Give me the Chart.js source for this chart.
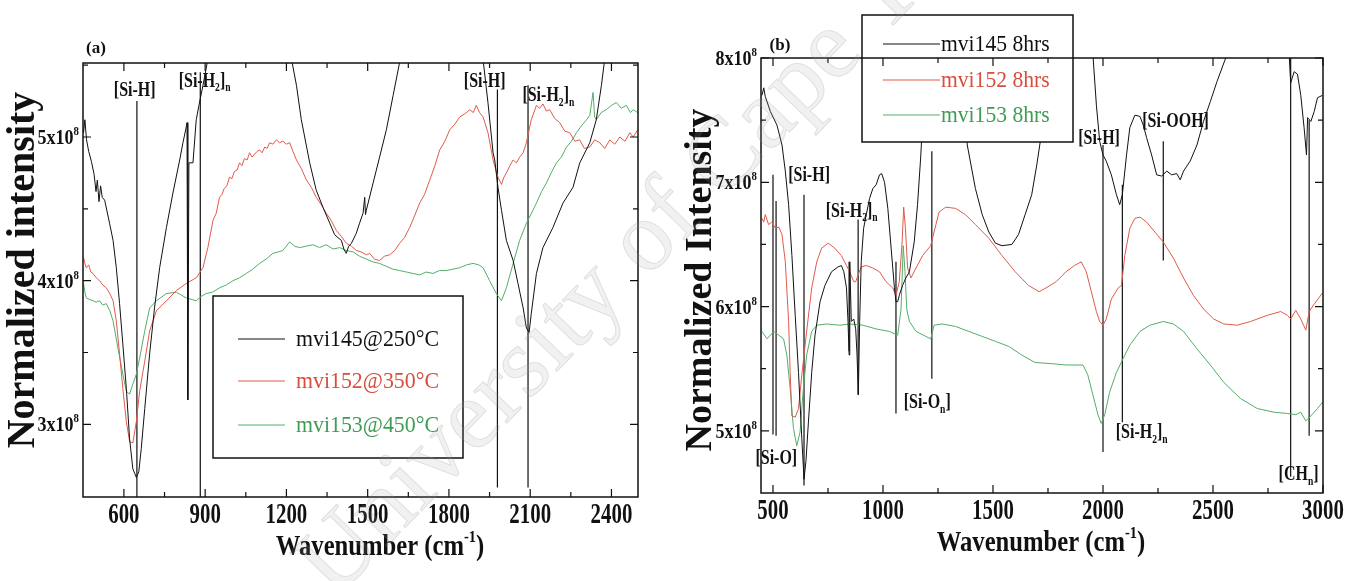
<!DOCTYPE html>
<html>
<head>
<meta charset="utf-8">
<script src="https://cdn.jsdelivr.net/npm/chart.js@4"></script>
<style>
  html, body { margin: 0; padding: 0; background: #fff; }
  #wrap { position: relative; width: 1354px; height: 581px; overflow: hidden; }
  canvas { position: absolute; top: 0; }
  #panelA { left: 0; }
  #panelB { left: 677px; }
  #stamp { left: 0; pointer-events: none; }
</style>
</head>
<body>
<div id="wrap">
  <canvas id="panelA" width="677" height="581"></canvas>
  <canvas id="panelB" width="677" height="581"></canvas>
  <canvas id="stamp" width="1354" height="581"></canvas>
</div>
<script>
'use strict';

// ---- panel (a): annealing temperature series, intensity in units of 1e8 ----
const mvi145Temp = [
  [451, 5.03], [456, 5.12], [462, 4.98], [470, 4.90], [480, 4.83], [490, 4.74], [497, 4.62], [502, 4.70],
  [508, 4.55], [514, 4.66], [520, 4.58], [529, 4.56], [547, 4.40], [560, 4.28], [572, 4.09], [584, 3.84],
  [596, 3.56], [609, 3.25], [621, 2.90], [633, 2.69], [646, 2.63], [655, 2.67], [664, 2.83], [677, 3.11],
  [695, 3.49], [713, 3.81], [732, 4.09], [757, 4.37], [781, 4.61], [806, 4.84], [818, 4.96], [828, 5.05],
  [833, 5.10], [836, 3.17], [840, 4.82], [855, 4.82], [867, 5.12], [877, 5.22], [892, 5.36], [910, 5.54],
  [925, 5.80], [1205, 5.80], [1218, 5.55], [1237, 5.36], [1255, 5.12], [1286, 4.82], [1310, 4.63],
  [1335, 4.51], [1360, 4.40], [1378, 4.32], [1390, 4.30], [1403, 4.28], [1412, 4.22], [1421, 4.19],
  [1430, 4.24], [1440, 4.26], [1458, 4.33], [1470, 4.40], [1483, 4.47], [1489, 4.58], [1492, 4.46],
  [1495, 4.49], [1520, 4.68], [1544, 4.86], [1569, 5.05], [1594, 5.29], [1618, 5.52], [1630, 5.80],
  [1915, 5.80], [1926, 5.54], [1944, 5.24], [1963, 4.89], [1969, 4.84], [1981, 4.65], [1994, 4.49],
  [2012, 4.28], [2037, 4.14], [2055, 3.98], [2074, 3.81], [2086, 3.67], [2096, 3.64], [2104, 3.77],
  [2123, 4.05], [2147, 4.23], [2184, 4.37], [2221, 4.54], [2258, 4.65], [2283, 4.82], [2320, 4.96],
  [2344, 5.12], [2363, 5.36], [2375, 5.54], [2385, 5.80],
];
const mvi152Temp = [
  [451, 4.16], [456, 4.12], [461, 4.09], [470, 4.11], [478, 4.06], [486, 4.05], [498, 4.02], [510, 4.00],
  [522, 3.97], [535, 3.95], [548, 3.91], [560, 3.86], [572, 3.72], [584, 3.49], [596, 3.25], [609, 3.02],
  [621, 2.88], [633, 2.87], [646, 3.02], [658, 3.23], [677, 3.44], [695, 3.65], [720, 3.79], [757, 3.86],
  [793, 3.93], [830, 3.98], [867, 4.02], [892, 4.09], [910, 4.23], [929, 4.42], [941, 4.47], [953, 4.58],
  [962, 4.60], [970, 4.64], [980, 4.66], [990, 4.72], [999, 4.71], [1008, 4.76], [1018, 4.77], [1027, 4.82],
  [1036, 4.80], [1045, 4.85], [1055, 4.84], [1064, 4.89], [1073, 4.86], [1082, 4.88], [1092, 4.90],
  [1101, 4.91], [1110, 4.89], [1120, 4.93], [1129, 4.92], [1138, 4.96], [1150, 4.95], [1163, 4.98],
  [1175, 4.96], [1187, 4.97], [1200, 4.95], [1212, 4.96], [1224, 4.90], [1237, 4.84], [1255, 4.78],
  [1274, 4.70], [1292, 4.65], [1310, 4.58], [1328, 4.53], [1347, 4.47], [1365, 4.42], [1384, 4.35],
  [1402, 4.31], [1421, 4.26], [1440, 4.24], [1458, 4.21], [1476, 4.20], [1495, 4.18], [1507, 4.19],
  [1525, 4.15], [1544, 4.14], [1562, 4.17], [1581, 4.18], [1600, 4.21], [1618, 4.26], [1636, 4.30],
  [1655, 4.37], [1673, 4.45], [1692, 4.54], [1710, 4.60], [1729, 4.70], [1748, 4.80], [1766, 4.91],
  [1785, 4.97], [1803, 5.05], [1822, 5.09], [1840, 5.14], [1858, 5.16], [1877, 5.19], [1890, 5.17],
  [1901, 5.22], [1913, 5.17], [1926, 5.14], [1944, 5.03], [1963, 4.84], [1981, 4.72], [1994, 4.67],
  [2003, 4.72], [2012, 4.75], [2025, 4.80], [2037, 4.84], [2049, 4.82], [2061, 4.86], [2074, 4.89],
  [2086, 4.96], [2104, 5.12], [2123, 5.22], [2135, 5.20], [2147, 5.23], [2160, 5.18], [2172, 5.19],
  [2190, 5.13], [2209, 5.10], [2228, 5.04], [2246, 5.03], [2265, 4.97], [2283, 4.98], [2300, 4.92],
  [2320, 4.93], [2338, 4.98], [2357, 4.96], [2375, 4.92], [2394, 4.98], [2412, 4.95], [2431, 5.00],
  [2450, 4.97], [2468, 5.03], [2480, 5.00], [2497, 5.05],
];
const mvi153Temp = [
  [451, 3.98], [456, 3.92], [461, 3.88], [472, 3.87], [486, 3.86], [498, 3.85], [510, 3.86], [522, 3.83],
  [535, 3.84], [548, 3.79], [560, 3.72], [578, 3.53], [596, 3.35], [609, 3.23], [621, 3.21], [633, 3.28],
  [646, 3.35], [658, 3.46], [677, 3.65], [695, 3.81], [720, 3.86], [757, 3.91], [793, 3.92], [830, 3.88],
  [867, 3.86], [885, 3.89], [904, 3.91], [928, 3.92], [953, 3.95], [978, 3.97], [1003, 4.00], [1027, 4.02],
  [1052, 4.05], [1076, 4.08], [1101, 4.12], [1125, 4.15], [1150, 4.19], [1170, 4.20], [1187, 4.21],
  [1212, 4.27], [1230, 4.24], [1249, 4.23], [1274, 4.24], [1298, 4.25], [1322, 4.23], [1347, 4.25],
  [1372, 4.22], [1397, 4.23], [1420, 4.21], [1446, 4.20], [1470, 4.17], [1495, 4.15], [1520, 4.13],
  [1544, 4.12], [1568, 4.10], [1593, 4.08], [1618, 4.07], [1643, 4.06], [1667, 4.05], [1692, 4.04],
  [1716, 4.06], [1741, 4.05], [1765, 4.07], [1790, 4.07], [1815, 4.08], [1840, 4.09], [1865, 4.11],
  [1889, 4.12], [1910, 4.11], [1926, 4.09], [1950, 4.00], [1975, 3.91], [1994, 3.86], [2012, 3.95],
  [2037, 4.12], [2061, 4.28], [2086, 4.40], [2105, 4.47], [2123, 4.54], [2142, 4.62], [2160, 4.68],
  [2180, 4.76], [2197, 4.82], [2215, 4.86], [2234, 4.93], [2252, 4.97], [2271, 5.03], [2290, 5.08],
  [2308, 5.12], [2320, 5.15], [2332, 5.31], [2338, 5.14], [2344, 5.12], [2362, 5.17], [2381, 5.19],
  [2400, 5.22], [2418, 5.24], [2436, 5.20], [2455, 5.22], [2470, 5.17], [2480, 5.19], [2497, 5.17],
];
// absorption marker lines: [wavenumber, top, bottom]
const markersTemp = [
  [648, 5.25, 2.49], [882, 5.45, 2.49], [1979, 5.33, 2.56], [2092, 5.36, 2.56],
];
const peakNotesTemp = [
  ['[Si-H]', 640, 5.33], ['[Si-H_{2}]_{n}', 898, 5.39], ['[Si-H]', 1932, 5.39], ['[Si-H_{2}]_{n}', 2167, 5.29],
];
const xTicksTemp = [600, 900, 1200, 1500, 1800, 2100, 2400];
const xMinorTemp = [750, 1050, 1350, 1650, 1950, 2250];
const yTicksTemp = [3, 4, 5];
const yMinorTemp = [3.5, 4.5, 5.5];
const labelsTemp = ['mvi145@250°C', 'mvi152@350°C', 'mvi153@450°C'];

// ---- panel (b): 8 hour series ----
const mvi145Time = [
  [450, 7.70], [458, 7.76], [465, 7.69], [488, 7.57], [518, 7.46], [541, 7.30], [556, 7.09], [571, 6.82],
  [586, 6.41], [601, 5.93], [616, 5.47], [631, 4.94], [641, 4.61], [650, 4.76], [661, 5.07], [676, 5.47],
  [691, 5.77], [714, 6.04], [736, 6.17], [766, 6.28], [796, 6.32], [811, 6.33], [822, 6.28], [834, 6.15],
  [841, 5.88], [846, 5.61], [849, 6.36], [856, 5.88], [867, 5.90], [876, 5.82], [882, 5.61], [888, 5.29],
  [894, 5.88], [901, 6.36], [912, 6.63], [924, 6.74], [939, 6.87], [954, 6.95], [969, 6.98], [984, 7.06],
  [994, 7.07], [1007, 7.00], [1022, 6.79], [1037, 6.47], [1052, 6.15], [1059, 6.04], [1067, 6.04],
  [1074, 6.09], [1089, 6.17], [1104, 6.23], [1120, 6.28], [1142, 6.52], [1157, 6.82], [1172, 7.22],
  [1187, 7.76], [1192, 8.03], [1200, 8.40], [1340, 8.40], [1383, 7.30], [1420, 6.95], [1451, 6.74],
  [1481, 6.60], [1511, 6.51], [1541, 6.49], [1586, 6.50], [1616, 6.58], [1646, 6.74], [1676, 6.90],
  [1699, 7.14], [1722, 7.41], [1745, 7.80], [1760, 8.20], [1945, 8.20], [1954, 8.03], [1970, 7.62],
  [1985, 7.33], [2000, 7.22], [2015, 7.17], [2038, 7.06], [2061, 6.90], [2076, 6.82], [2088, 6.90],
  [2107, 7.22], [2122, 7.44], [2145, 7.54], [2168, 7.53], [2183, 7.46], [2198, 7.36], [2221, 7.22],
  [2244, 7.06], [2267, 7.05], [2290, 7.09], [2312, 7.06], [2335, 7.07], [2351, 7.02], [2366, 7.09],
  [2396, 7.17], [2427, 7.30], [2457, 7.49], [2488, 7.65], [2518, 7.81], [2564, 8.03], [2580, 8.20],
  [2835, 8.20], [2846, 8.03], [2853, 7.80], [2869, 7.89], [2884, 7.87], [2899, 7.70], [2914, 7.44],
  [2925, 7.22], [2930, 7.52], [2945, 7.49], [2960, 7.57], [2975, 7.68], [2998, 7.70],
];
const mvi152Time = [
  [450, 6.71], [458, 6.68], [465, 6.74], [480, 6.66], [495, 6.68], [511, 6.63], [526, 6.64], [541, 6.58],
  [556, 6.36], [571, 5.88], [578, 5.47], [586, 5.12], [601, 5.11], [616, 5.18], [631, 5.45], [653, 5.80],
  [676, 6.15], [699, 6.36], [721, 6.47], [751, 6.51], [781, 6.47], [811, 6.41], [834, 6.33], [849, 6.28],
  [867, 6.20], [876, 6.20], [886, 6.25], [901, 6.32], [924, 6.33], [954, 6.31], [984, 6.28], [1014, 6.20],
  [1044, 6.15], [1059, 6.09], [1074, 6.20], [1087, 6.52], [1094, 6.80], [1102, 6.63], [1112, 6.31],
  [1127, 6.23], [1150, 6.31], [1180, 6.41], [1217, 6.49], [1232, 6.60], [1255, 6.76], [1285, 6.80],
  [1330, 6.79], [1375, 6.74], [1420, 6.66], [1481, 6.55], [1541, 6.41], [1601, 6.28], [1661, 6.17],
  [1710, 6.12], [1741, 6.15], [1787, 6.20], [1832, 6.28], [1870, 6.33], [1901, 6.36], [1924, 6.28],
  [1947, 6.12], [1970, 5.96], [1985, 5.88], [2000, 5.85], [2015, 5.90], [2038, 6.06], [2069, 6.15],
  [2084, 6.17], [2099, 6.41], [2122, 6.63], [2145, 6.71], [2168, 6.72], [2198, 6.68], [2236, 6.60],
  [2274, 6.52], [2320, 6.39], [2366, 6.23], [2411, 6.09], [2457, 5.98], [2503, 5.90], [2549, 5.86],
  [2610, 5.85], [2671, 5.88], [2747, 5.93], [2808, 5.96], [2838, 5.93], [2853, 5.90], [2876, 5.97],
  [2899, 5.90], [2922, 5.81], [2937, 5.96], [2960, 6.02], [2998, 6.11],
];
const mvi153Time = [
  [450, 5.80], [473, 5.74], [503, 5.80], [526, 5.77], [548, 5.74], [563, 5.61], [578, 5.34], [593, 5.02],
  [608, 4.88], [623, 4.99], [638, 5.34], [653, 5.61], [676, 5.80], [699, 5.85], [744, 5.86], [804, 5.85],
  [849, 5.86], [909, 5.85], [969, 5.82], [1029, 5.80], [1067, 5.77], [1082, 5.98], [1092, 6.49],
  [1100, 6.28], [1108, 5.98], [1120, 5.88], [1150, 5.80], [1195, 5.76], [1217, 5.74], [1232, 5.85],
  [1270, 5.86], [1330, 5.84], [1390, 5.80], [1451, 5.76], [1511, 5.72], [1571, 5.68], [1631, 5.61],
  [1691, 5.55], [1771, 5.54], [1832, 5.53], [1909, 5.53], [1931, 5.45], [1954, 5.29], [1977, 5.13],
  [1992, 5.06], [2008, 5.13], [2030, 5.31], [2061, 5.47], [2091, 5.58], [2122, 5.69], [2168, 5.80],
  [2213, 5.85], [2274, 5.88], [2320, 5.86], [2366, 5.80], [2427, 5.66], [2488, 5.53], [2549, 5.39],
  [2625, 5.26], [2701, 5.18], [2777, 5.15], [2838, 5.14], [2876, 5.13], [2899, 5.15], [2922, 5.08],
  [2945, 5.12], [2975, 5.18], [2998, 5.23],
];
const markersTime = [
  [500, 7.06, 4.97], [514, 6.85, 4.96], [641, 6.90, 4.56], [846, 6.36, 5.64], [887, 6.70, 5.29],
  [1059, 6.36, 5.14], [1222, 7.25, 5.42], [2000, 7.30, 4.83], [2088, 6.98, 5.07], [2274, 7.33, 6.37],
  [2853, 8.00, 4.63], [2937, 7.50, 4.96],
];
const peakNotesTime = [
  ['[Si-H]', 664, 7.06], ['[Si-H_{2}]_{n}', 858, 6.77], ['[Si-O]', 515, 4.78], ['[Si-O_{n}]', 1201, 5.23],
  ['[Si-H]', 1982, 7.36], ['[Si-OOH]', 2330, 7.49], ['[Si-H_{2}]_{n}', 2176, 4.99], ['[CH_{n}]', 2889, 4.65],
];
const xTicksTime = [500, 1000, 1500, 2000, 2500, 3000];
const xMinorTime = [750, 1250, 1750, 2250, 2750];
const yTicksTime = [5, 6, 7, 8];
const yMinorTime = [5.5, 6.5, 7.5];
const labelsTime = ['mvi145 8hrs', 'mvi152 8hrs', 'mvi153 8hrs'];

const SERIF = '"Liberation Serif", "Times New Roman", serif';
const lineColors = ['#111111', '#e05a4c', '#55ad68'];
const textColors = ['#111111', '#d64e3e', '#3f9c55'];

// split "a_{b}c^{d}" into plain / sub / sup runs
const parseRich = (s) => {
  const out = [];
  const re = /([_^])\{([^}]*)\}/g;
  let last = 0;
  let m;
  while ((m = re.exec(s))) {
    if (m.index > last) out.push({ t: s.slice(last, m.index), k: '' });
    out.push({ t: m[2], k: m[1] });
    last = re.lastIndex;
  }
  if (last < s.length) out.push({ t: s.slice(last), k: '' });
  return out;
};

const drawRich = (ctx, s, x, y, o) => {
  const size = o.size;
  const weight = o.bold ? 'bold ' : '';
  const big = `${weight}${size}px ${SERIF}`;
  const small = `${weight}${Math.round(size * 0.6)}px ${SERIF}`;
  const segs = parseRich(s);
  ctx.save();
  ctx.translate(x, y);
  if (o.rotate) ctx.rotate(o.rotate);
  ctx.scale(o.sx || 1, 1);
  ctx.fillStyle = o.color || '#111';
  ctx.textBaseline = 'alphabetic';
  ctx.textAlign = 'left';
  let total = 0;
  segs.forEach(seg => {
    ctx.font = seg.k ? small : big;
    seg.w = ctx.measureText(seg.t).width;
    total += seg.w;
  });
  let cx = o.align === 'right' ? -total : o.align === 'left' ? 0 : -total / 2;
  segs.forEach(seg => {
    ctx.font = seg.k ? small : big;
    const dy = seg.k === '_' ? size * 0.22 : seg.k === '^' ? -size * 0.45 : 0;
    ctx.fillText(seg.t, cx, dy);
    cx += seg.w;
  });
  ctx.restore();
};

// frame, inward ticks, labels, legend box and peak notes
const panelPlugin = {
  id: 'panel',
  afterDatasetsDraw(chart, args, opts) {
    const { ctx, chartArea: area, scales: { x, y } } = chart;
    ctx.save();

    // legend box sits on top of the spectra
    const lg = opts.legend;
    ctx.fillStyle = '#fff';
    ctx.fillRect(lg.box[0], lg.box[1], lg.box[2], lg.box[3]);
    ctx.strokeStyle = '#111';
    ctx.lineWidth = 1.5;
    ctx.strokeRect(lg.box[0], lg.box[1], lg.box[2], lg.box[3]);
    lg.rows.forEach((rowY, i) => {
      ctx.strokeStyle = lineColors[i];
      ctx.lineWidth = 1.2;
      ctx.beginPath();
      ctx.moveTo(lg.line[0], rowY - 7);
      ctx.lineTo(lg.line[1], rowY - 7);
      ctx.stroke();
      drawRich(ctx, opts.labels[i], lg.textX, rowY, { size: lg.size, sx: lg.sx, align: 'left', color: textColors[i] });
    });

    // frame
    ctx.strokeStyle = '#111';
    ctx.lineWidth = 1.5;
    ctx.strokeRect(area.left, area.top, area.right - area.left, area.bottom - area.top);

    // ticks pointing into the plot on all four sides
    ctx.lineWidth = 1.2;
    const tick = (vals, len, horiz) => {
      vals.forEach(v => {
        ctx.beginPath();
        if (horiz) {
          const px = x.getPixelForValue(v);
          ctx.moveTo(px, area.bottom); ctx.lineTo(px, area.bottom - len);
          ctx.moveTo(px, area.top); ctx.lineTo(px, area.top + len);
        } else {
          const py = y.getPixelForValue(v);
          ctx.moveTo(area.left, py); ctx.lineTo(area.left + len, py);
          ctx.moveTo(area.right, py); ctx.lineTo(area.right - len, py);
        }
        ctx.stroke();
      });
    };
    tick(opts.xTicks, 8, true);
    tick(opts.xMinor, 5, true);
    tick(opts.yTicks, 8, false);
    tick(opts.yMinor, 5, false);

    // tick labels
    opts.xTicks.forEach(v => {
      drawRich(ctx, String(v), x.getPixelForValue(v), area.bottom + 26, { size: 29, bold: true, sx: 0.72 });
    });
    opts.yTicks.forEach(v => {
      drawRich(ctx, `${v}x10^{8}`, area.left - 4, y.getPixelForValue(v) + 7, { size: 20, bold: true, sx: 0.9, align: 'right' });
    });

    // axis titles
    drawRich(ctx, 'Wavenumber (cm^{-1})', opts.xTitle[0], opts.xTitle[1], { size: 29, bold: true, sx: 0.85 });
    drawRich(ctx, opts.yTitleText, opts.yTitle[0], opts.yTitle[1], { size: opts.yTitle[2], bold: true, rotate: -Math.PI / 2 });
    drawRich(ctx, opts.letter[0], opts.letter[1], opts.letter[2], { size: 17, bold: true });

    // peak assignments
    opts.notes.forEach(([text, w, v]) => {
      drawRich(ctx, text, x.getPixelForValue(w), y.getPixelForValue(v) + 6, { size: 20, bold: true, sx: 0.8 });
    });
    ctx.restore();
  },
};

const toPoints = (pairs) => pairs.map(([x, y]) => ({ x, y }));
const markerPoints = (list) => {
  const pts = [];
  list.forEach(([w, top, bottom]) => {
    pts.push({ x: w, y: top }, { x: w, y: bottom }, { x: w, y: null });
  });
  return pts;
};

const buildPanel = (canvasId, series, markers, range, padding, panelOpts) => {
  const datasets = series.map((s, i) => ({
    data: toPoints(s),
    borderColor: lineColors[i],
    borderWidth: 1,
  }));
  datasets.push({ data: markerPoints(markers), borderColor: '#111', borderWidth: 1.2 });

  new Chart(document.getElementById(canvasId), {
    type: 'line',
    data: { datasets },
    options: {
      responsive: false,
      animation: false,
      events: [],
      layout: { padding },
      elements: { point: { radius: 0 }, line: { tension: 0 } },
      plugins: { legend: { display: false }, tooltip: { enabled: false }, panel: panelOpts },
      scales: {
        x: { type: 'linear', min: range[0], max: range[1], display: false },
        y: { type: 'linear', min: range[2], max: range[3], display: false },
      },
    },
    plugins: [panelPlugin],
  });
};

buildPanel('panelA', [mvi145Temp, mvi152Temp, mvi153Temp], markersTemp,
  [449, 2498, 2.494, 5.515],
  { left: 83, right: 39, top: 63, bottom: 84 },
  {
    xTicks: xTicksTemp, xMinor: xMinorTemp, yTicks: yTicksTemp, yMinor: yMinorTemp,
    labels: labelsTemp, notes: peakNotesTemp,
    legend: { box: [213, 296, 250, 162], rows: [346, 388, 432], line: [238, 285], textX: 296, size: 23.5, sx: 0.93 },
    xTitle: [380, 555], yTitle: [34, 270, 40], yTitleText: 'Normalized intensity',
    letter: ['(a)', 96, 53],
  });

buildPanel('panelB', [mvi145Time, mvi152Time, mvi153Time], markersTime,
  [445.5, 3000, 4.5, 8.0],
  { left: 84, right: 31, top: 58, bottom: 88 },
  {
    xTicks: xTicksTime, xMinor: xMinorTime, yTicks: yTicksTime, yMinor: yMinorTime,
    labels: labelsTime, notes: peakNotesTime,
    legend: { box: [185, 15, 211, 127], rows: [51, 87, 122], line: [206, 263], textX: 264, size: 24, sx: 0.9 },
    xTitle: [364, 551], yTitle: [34, 280, 38], yTitleText: 'Normalized Intensity',
    letter: ['(b)', 103, 50],
  });

// faint diagonal repository stamp across both panels
const stamp = document.getElementById('stamp').getContext('2d');
stamp.save();
stamp.translate(335, 600);
stamp.rotate(-0.8);
stamp.font = `100px ${SERIF}`;
stamp.fillStyle = 'rgba(160, 160, 160, 0.15)';
stamp.strokeStyle = 'rgba(130, 130, 130, 0.2)';
stamp.lineWidth = 1;
stamp.fillText('University of Cape Town', 0, 0);
stamp.strokeText('University of Cape Town', 0, 0);
stamp.restore();
</script>
</body>
</html>
